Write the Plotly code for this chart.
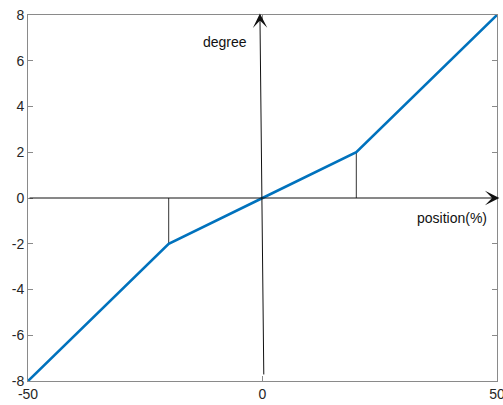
import plotly.graph_objects as go

# piecewise-linear characteristic
position = [-50, -20, 0, 20, 50]
degree = [-8, -2, 0, 2, 8]

# marker lines at the breakpoints
break_x = [-20, 20]
break_y = [-2, 2]

x_ticks = [-50, 0, 50]
y_ticks = [-8, -6, -4, -2, 0, 2, 4, 6, 8]

axis_col = "#8a8a8a"
text_col = "#262626"

fig = go.Figure()

# thin drop lines at the knees
for bx, by in zip(break_x, break_y):
    fig.add_trace(go.Scatter(
        x=[bx, bx], y=[0, by], mode="lines",
        line=dict(color="#333333", width=1), showlegend=False, hoverinfo="skip"
    ))

fig.add_trace(go.Scatter(
    x=position, y=degree, mode="lines",
    line=dict(color="#0072BD", width=2.6), showlegend=False
))

# axis arrows (x axis arrow and slightly tilted y axis arrow)
fig.add_annotation(
    x=50.5, y=0, ax=-50, ay=0, xref="x", yref="y", axref="x", ayref="y",
    text="", showarrow=True, arrowhead=3, arrowsize=2.4, arrowwidth=1,
    arrowcolor="#111111", standoff=0, startstandoff=0
)
fig.add_annotation(
    x=-0.55, y=8.07, ax=0.28, ay=-7.78, xref="x", yref="y", axref="x", ayref="y",
    text="", showarrow=True, arrowhead=3, arrowsize=2.4, arrowwidth=1,
    arrowcolor="#111111", standoff=0, startstandoff=0
)

fig.add_annotation(x=-8, y=6.8, text="degree", showarrow=False,
                   font=dict(family="Liberation Sans, Arial", size=14, color="#111111"))
fig.add_annotation(x=40.5, y=-0.87, text="position(%)", showarrow=False,
                   font=dict(family="Liberation Sans, Arial", size=14, color="#111111"))

fig.update_xaxes(
    range=[-50, 50], tickvals=x_ticks, ticktext=[str(v) for v in x_ticks],
    ticks="inside", ticklen=5, tickcolor=axis_col,
    showline=True, linecolor=axis_col, linewidth=1, mirror="ticks",
    showgrid=False, zeroline=False, automargin=False, ticklabeloverflow="allow",
    tickfont=dict(size=14, color=text_col)
)
fig.update_yaxes(
    range=[-8, 8], tickvals=y_ticks, ticktext=[str(v) for v in y_ticks],
    ticks="inside", ticklen=5, tickcolor=axis_col,
    showline=True, linecolor=axis_col, linewidth=1, mirror="ticks",
    showgrid=False, zeroline=False, automargin=False, ticklabeloverflow="allow",
    tickfont=dict(size=14, color=text_col)
)

fig.update_layout(
    width=503, height=405,
    margin=dict(l=28, r=6, t=15, b=24),
    plot_bgcolor="white", paper_bgcolor="white",
    font=dict(family="Liberation Sans, Arial")
)

fig.write_html("out.html", config={"displayModeBar": False},
               post_script="document.body.style.margin='0';")
